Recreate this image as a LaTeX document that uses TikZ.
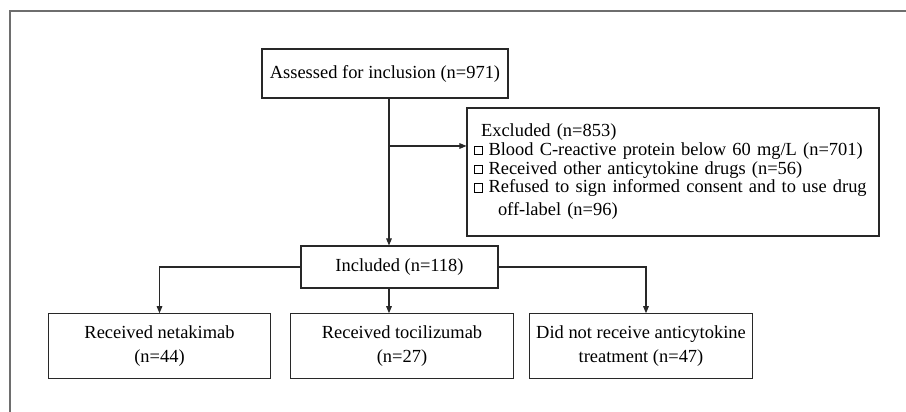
\documentclass[tikz,border=0pt]{standalone}
\usepackage{fontspec}
\setmainfont{Liberation Serif}
\usepackage{tikz}
\usetikzlibrary{arrows.meta,positioning,calc}
\definecolor{frameGray}{RGB}{110,110,110}
\definecolor{boxLine}{RGB}{40,40,40}
\newcommand{\tickbox}{\raisebox{0.15ex}{\setlength{\fboxsep}{0pt}\setlength{\fboxrule}{0.45pt}\fbox{\rule{0pt}{4.2pt}\rule{4.2pt}{0pt}}}\hspace{0.3em}}

\begin{document}
\begin{tikzpicture}[
  flowbox/.style={draw=boxLine, line width=0.6pt, inner sep=0pt, align=center,
    font=\fontsize{10.5}{13.2}\selectfont},
  arr/.style={draw=boxLine, line width=0.6pt, -{Triangle[length=4pt,width=3.2pt]}}
]
  \useasboundingbox (0,0) rectangle (18.12,8.24);
  % outer frame (top and left only)
  \draw[frameGray, line width=0.9pt] (18.12,8.02) -- (0.2,8.02) -- (0.2,0);

  \node[flowbox, minimum width=4.92cm, minimum height=0.98cm] (assess) at (7.70,6.77) {Assessed for inclusion (n=971)};
  \node[flowbox, align=left, text width=7.96cm, inner xsep=0.14cm, minimum height=2.56cm,
    font=\fontsize{10.5}{10.6}\selectfont] (excl) at (13.46,4.80)
    {\hspace*{0.14cm}Excluded (n=853)\\
     \tickbox Blood C-reactive protein below 60 mg/L (n=701)\\
     \tickbox Received other anticytokine drugs (n=56)\\
     \tickbox Refused to sign informed consent and to use drug\\[2.5pt]
     \hspace*{0.48cm}off-label (n=96)};
  \node[flowbox, minimum width=3.94cm, minimum height=0.84cm] (incl) at (7.99,2.90) {Included (n=118)};

  \node[flowbox, minimum width=4.45cm, minimum height=1.29cm] (net) at (3.19,1.32) {Received netakimab\\(n=44)};
  \node[flowbox, minimum width=4.45cm, minimum height=1.29cm] (toc) at (8.04,1.32) {Received tocilizumab\\(n=27)};
  \node[flowbox, minimum width=4.45cm, minimum height=1.29cm] (did) at (12.82,1.32) {Did not receive anticytokine\\treatment (n=47)};

  \coordinate (trunk) at (7.78,5.32);
  \coordinate (didin) at (12.92,2.90);

  \draw[arr] (assess.south -| trunk) -- (incl.north -| trunk);
  \draw[arr] (trunk) -- (trunk -| excl.west);
  \draw[arr] (incl.west) -| (net.north);
  \draw[arr] (incl.south -| trunk) -- (toc.north -| trunk);
  \draw[arr] (incl.east) -- (didin) -- (didin |- did.north);
\end{tikzpicture}
\end{document}
